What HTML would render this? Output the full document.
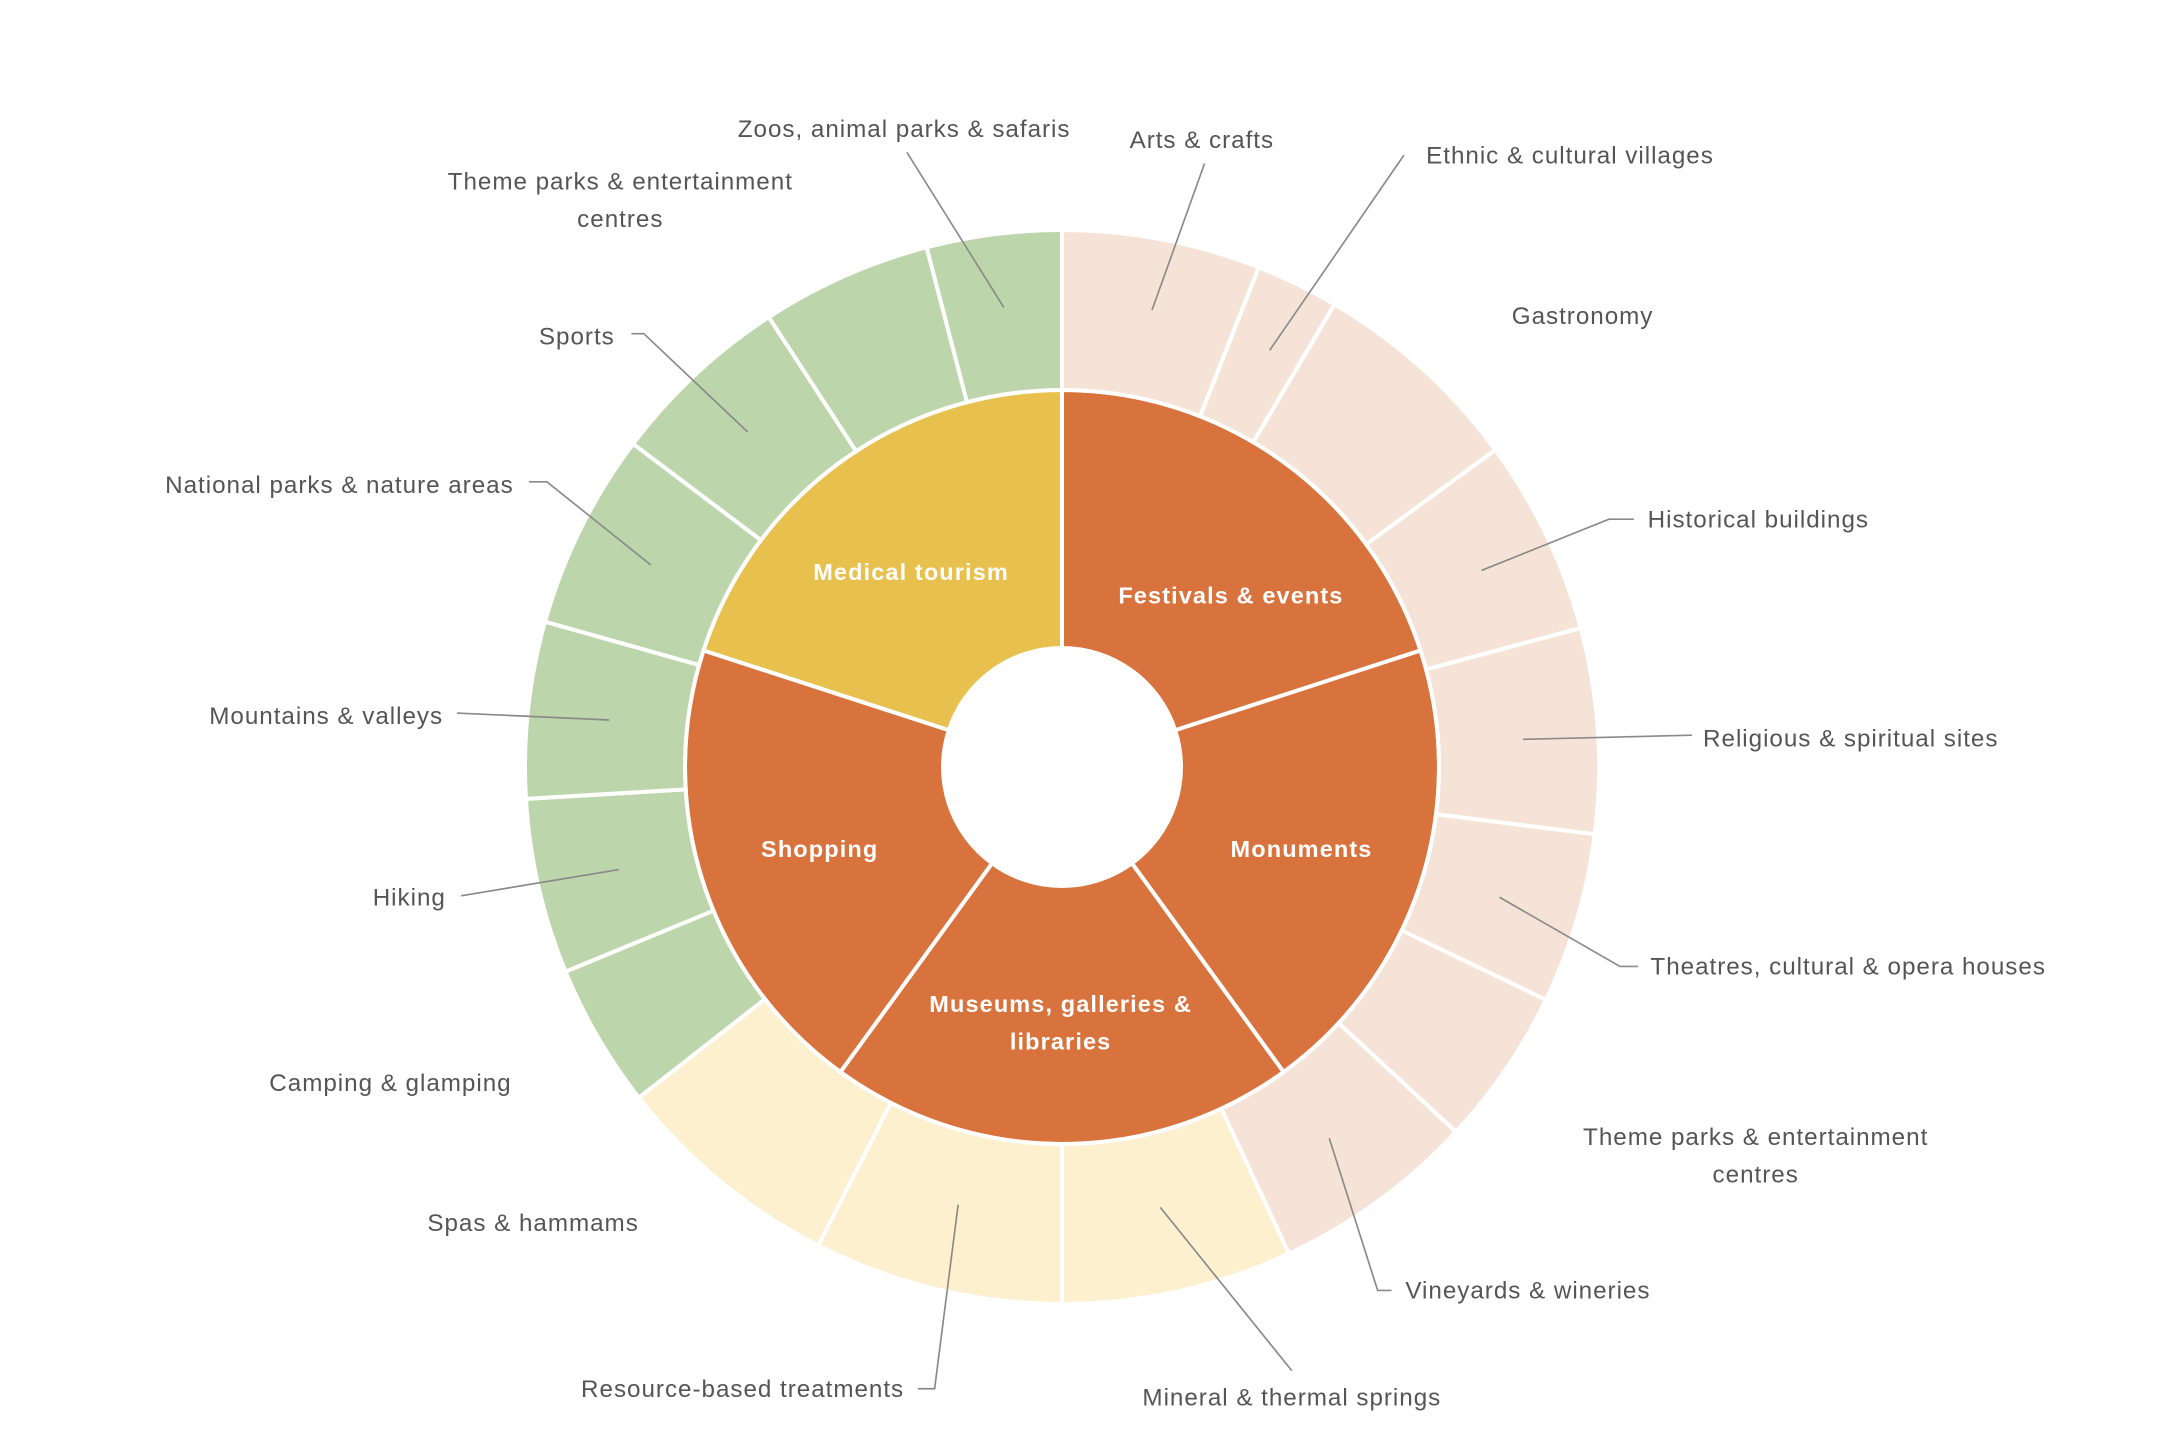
<!DOCTYPE html>
<html><head><meta charset="utf-8"><style>
html,body{margin:0;padding:0;background:#fff;}
svg{display:block;}
text{font-family:"Liberation Sans",sans-serif;}
</style></head><body>
<svg id="s" width="2171" height="1440" viewBox="0 0 2171 1440" xmlns="http://www.w3.org/2000/svg">
<g id="pie" stroke="#fff" stroke-width="4"></g>
<g transform="scale(1.3846)">
<g fill="none" stroke="#8a8a8a" stroke-width="1.2">
<polyline points="655,110 725,222"/>
<polyline points="870,118 832,224"/>
<polyline points="1014,112 917,253"/>
<polyline points="1180,375 1162,375 1070,412"/>
<polyline points="1222,531 1100,534"/>
<polyline points="1183,698 1170,698 1083,648"/>
<polyline points="1005,932 995,932 960,822"/>
<polyline points="933,990 838,872"/>
<polyline points="663,1003 675,1003 692,870"/>
<polyline points="333,647 447,628"/>
<polyline points="330,515 440,520"/>
<polyline points="382,348 395,348 470,408"/>
<polyline points="456,241 465,241 540,312"/>
</g>
<g fill="#555" font-size="17.5" letter-spacing="0.7">
<text x="653" y="99" text-anchor="middle">Zoos, animal parks &amp; safaris</text>
<text x="868" y="107" text-anchor="middle">Arts &amp; crafts</text>
<text x="1030" y="118">Ethnic &amp; cultural villages</text>
<text x="1143" y="234" text-anchor="middle">Gastronomy</text>
<text x="1190" y="381">Historical buildings</text>
<text x="1230" y="539">Religious &amp; spiritual sites</text>
<text x="1192" y="704">Theatres, cultural &amp; opera houses</text>
<text x="1268" y="827" text-anchor="middle">Theme parks &amp; entertainment</text>
<text x="1268" y="854" text-anchor="middle">centres</text>
<text x="1015" y="938">Vineyards &amp; wineries</text>
<text x="933" y="1015" text-anchor="middle">Mineral &amp; thermal springs</text>
<text x="653" y="1009" text-anchor="end">Resource-based treatments</text>
<text x="385" y="889" text-anchor="middle">Spas &amp; hammams</text>
<text x="282" y="788" text-anchor="middle">Camping &amp; glamping</text>
<text x="322" y="654" text-anchor="end">Hiking</text>
<text x="320" y="523" text-anchor="end">Mountains &amp; valleys</text>
<text x="371" y="356" text-anchor="end">National parks &amp; nature areas</text>
<text x="444" y="249" text-anchor="end">Sports</text>
<text x="448" y="137" text-anchor="middle">Theme parks &amp; entertainment</text>
<text x="448" y="164" text-anchor="middle">centres</text>
</g>
<g fill="#fff" font-size="17" font-weight="bold" letter-spacing="0.8" text-anchor="middle">
<text x="658" y="419">Medical tourism</text>
<text x="889" y="436">Festivals &amp; events</text>
<text x="592" y="619">Shopping</text>
<text x="940" y="619">Monuments</text>
<text x="766" y="731">Museums, galleries &amp;</text>
<text x="766" y="758">libraries</text>
</g>
</g>
</svg>
<script>
var cx=1062,cy=767;
function p(a,r){var t=a*Math.PI/180;return [cx+r*Math.sin(t),cy-r*Math.cos(t)];}
function seg(a0,a1,r0,r1,c){
 var A=p(a0,r1),B=p(a1,r1),C=p(a1,r0),D=p(a0,r0),l=(a1-a0)>180?1:0;
 return '<path fill="'+c+'" d="M'+A+' A'+r1+','+r1+' 0 '+l+' 1 '+B+' L'+C+' A'+r0+','+r0+' 0 '+l+' 0 '+D+'Z"/>';
}
var h='';
var O='#d9733d';
h+=seg(288,360,119,377,'#e8c04e');
h+=seg(0,72,119,377,O);h+=seg(72,144,119,377,O);h+=seg(144,216,119,377,O);h+=seg(216,288,119,377,O);
var G='#bdd5ab',P='#f6e3d8',Y='#fdf0cf';
var b=[[0,21.5,P],[21.5,30.5,P],[30.5,53.8,P],[53.8,75,P],[75,97.2,P],[97.2,115.7,P],[115.7,132.8,P],[132.8,155,P],
[155,180,Y],[180,207,Y],[207,232,Y],
[232,247.6,G],[247.6,266.6,G],[266.6,285.7,G],[285.7,307,G],[307,326.9,G],[326.9,345.4,G],[345.4,360,G]];
b.forEach(function(s){h+=seg(s[0],s[1],377,537,s[2]);});
document.getElementById('pie').innerHTML=h;
</script>
</body></html>
